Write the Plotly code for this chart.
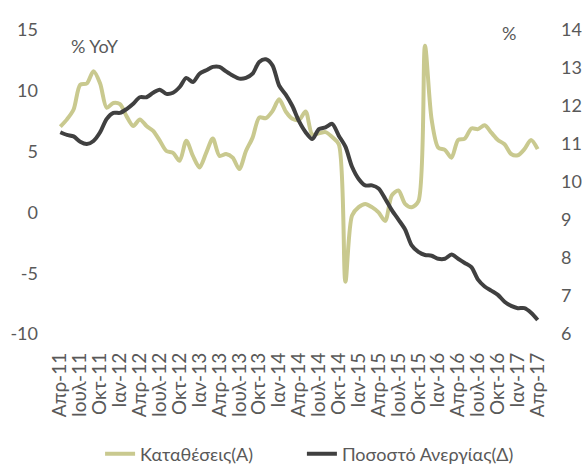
import plotly.graph_objects as go

deposits = [
    7.05, 7.65, 8.46, 10.5, 10.6, 11.6, 10.6, 8.6, 9.0, 8.9,
    7.9, 7.1, 7.65, 7.1, 6.7, 5.9, 5.05, 4.9, 4.25, 5.9,
    4.65, 3.7, 4.9, 6.07, 4.65, 4.8, 4.5, 3.56, 5.05, 6.15,
    7.8, 7.75, 8.33, 9.3, 8.3, 7.7, 7.6, 8.3, 6.4, 6.5,
    6.6, 6.2, 5.6, -5.7, -0.25, 0.43, 0.7, 0.43, 0.0, -0.7,
    1.4, 1.8, 0.7, 0.43, 0.9, 13.7, 7.65, 5.33, 5.14, 4.5,
    5.96, 6.07, 6.9, 6.85, 7.16, 6.56, 5.96, 5.6, 4.8, 4.7,
    5.2, 5.96, 5.2,
]

unemployment = [
    11.31, 11.24, 11.2, 11.06, 11.0, 11.08, 11.31, 11.66, 11.82, 11.82,
    11.92, 12.06, 12.23, 12.23, 12.35, 12.43, 12.32, 12.35, 12.5, 12.74,
    12.63, 12.85, 12.94, 13.03, 13.03, 12.91, 12.8, 12.72, 12.74, 12.85,
    13.16, 13.23, 13.07, 12.54, 12.3, 12.0, 11.6, 11.31, 11.13, 11.39,
    11.44, 11.53, 11.22, 10.93, 10.4, 10.08, 9.91, 9.91, 9.83, 9.56,
    9.26, 9.01, 8.75, 8.33, 8.16, 8.08, 8.06, 7.98, 7.98, 8.09,
    7.98, 7.87, 7.76, 7.43, 7.25, 7.14, 7.03, 6.85, 6.74, 6.68,
    6.68, 6.56, 6.37,
]

tick_labels = [
    "Απρ-11", "Ιουλ-11", "Οκτ-11", "Ιαν-12", "Απρ-12", "Ιουλ-12", "Οκτ-12",
    "Ιαν-13", "Απρ-13", "Ιουλ-13", "Οκτ-13", "Ιαν-14", "Απρ-14", "Ιουλ-14",
    "Οκτ-14", "Ιαν-15", "Απρ-15", "Ιουλ-15", "Οκτ-15", "Ιαν-16", "Απρ-16",
    "Ιουλ-16", "Οκτ-16", "Ιαν-17", "Απρ-17",
]

left_ticks = [-10, -5, 0, 5, 10, 15]
left_tick_text = ["-10", "-5", "0", "5", "10", "15"]
right_ticks = [6, 7, 8, 9, 10, 11, 12, 13, 14]

tick_every = 3
idx = list(range(len(deposits)))
tick_pos = idx[::tick_every]

FONT = "Lato, 'Open Sans', sans-serif"
GREY = "#595959"
GOLD = "#C9C98F"
DARK = "#404040"
FS = 18

fig = go.Figure()
fig.add_trace(go.Scatter(
    x=idx, y=deposits, name="Καταθέσεις(Α)", mode="lines",
    line=dict(color=GOLD, width=4, shape="spline", smoothing=0.8),
    yaxis="y", legend="legend",
))
fig.add_trace(go.Scatter(
    x=idx, y=unemployment, name="Ποσοστό Ανεργίας(Δ)", mode="lines",
    line=dict(color=DARK, width=4, shape="spline", smoothing=0.8),
    yaxis="y2", legend="legend2",
))

legend_common = dict(orientation="h", xanchor="left", y=-0.395, yanchor="middle",
                     font=dict(size=FS, color=GREY), bgcolor="rgba(0,0,0,0)")

fig.update_layout(
    template="none",
    width=582, height=471,
    margin=dict(l=57, r=41, t=30, b=137, autoexpand=False),
    paper_bgcolor="white", plot_bgcolor="white",
    font=dict(family=FONT, size=FS, color=GREY),
    showlegend=True,
    legend=dict(x=0.089, **legend_common),
    legend2=dict(x=0.506, **legend_common),
    xaxis=dict(range=[-0.5, len(idx) - 0.5], tickmode="array", tickvals=tick_pos,
               ticktext=tick_labels, tickangle=-90, showgrid=False, zeroline=False,
               showline=False, ticks="", tickfont=dict(size=19, color=GREY),
               ticklabelstandoff=14, automargin=False),
    yaxis=dict(range=[-10, 15], tickmode="array", tickvals=left_ticks,
               ticktext=left_tick_text, showgrid=False,
               zeroline=False, showline=False, ticks="", tickfont=dict(size=FS, color=GREY),
               ticklabelstandoff=18, automargin=False),
    yaxis2=dict(range=[6, 14], tickmode="array", tickvals=right_ticks, overlaying="y",
                side="right", showgrid=False, zeroline=False, showline=False, ticks="",
                tickfont=dict(size=FS, color=GREY), ticklabelstandoff=19, automargin=False),
    annotations=[
        dict(text="% YoY", xref="paper", yref="paper", x=0.024, y=0.948,
             xanchor="left", yanchor="middle", showarrow=False,
             font=dict(size=FS, color=GREY, family=FONT)),
        dict(text="%", xref="paper", yref="paper", x=0.915, y=0.99,
             xanchor="left", yanchor="middle", showarrow=False,
             font=dict(size=FS, color=GREY, family=FONT)),
    ],
)

fig.write_html(
    "out.html",
    config={"displayModeBar": False},
    post_script="document.body.style.margin='0';document.body.style.overflow='hidden';",
)
